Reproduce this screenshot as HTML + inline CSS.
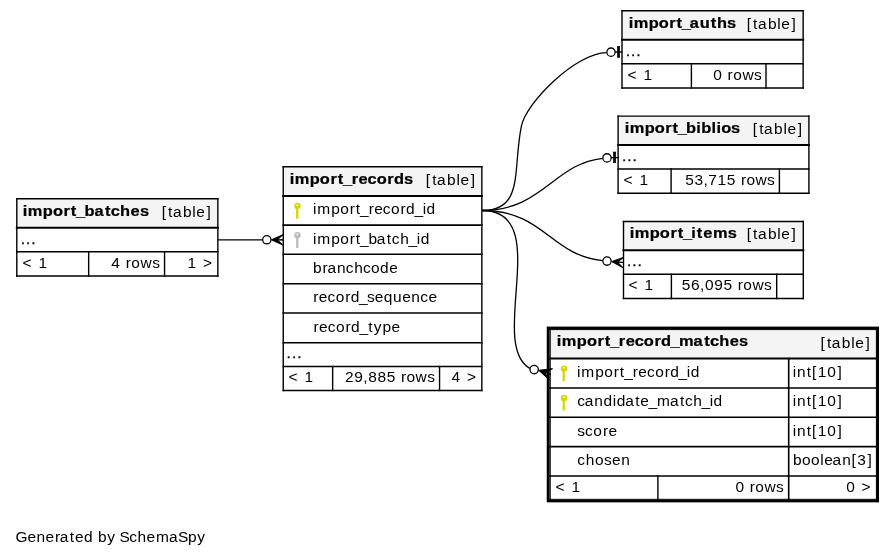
<!DOCTYPE html>
<html><head><meta charset="utf-8"><title>SchemaSpy</title>
<style>
html,body{margin:0;padding:0;background:#fff;width:895px;height:557px;overflow:hidden}
svg{display:block;will-change:transform}
text{font-family:"Liberation Sans",sans-serif;font-size:15.2px;fill:#000}
</style></head><body>
<svg width="895" height="557" viewBox="0 0 895 557">
<rect width="895" height="557" fill="#fff"/>

<rect x="16.8" y="198.7" width="201.05" height="77.30" fill="#fff"/>
<rect x="16.8" y="198.7" width="201.05" height="29.00" fill="#f4f4f4"/>
<line x1="16.80" y1="198.70" x2="217.85" y2="198.70" stroke="#000" stroke-width="1.4" stroke-linecap="square"/>
<line x1="16.80" y1="276.00" x2="217.85" y2="276.00" stroke="#000" stroke-width="1.4" stroke-linecap="square"/>
<line x1="16.80" y1="198.70" x2="16.80" y2="276.00" stroke="#000" stroke-width="1.4" stroke-linecap="square"/>
<line x1="217.85" y1="198.70" x2="217.85" y2="276.00" stroke="#000" stroke-width="1.4" stroke-linecap="square"/>
<line x1="16.80" y1="227.70" x2="217.85" y2="227.70" stroke="#000" stroke-width="2.0" stroke-linecap="square"/>
<line x1="16.80" y1="251.80" x2="217.85" y2="251.80" stroke="#000" stroke-width="1.4" stroke-linecap="square"/>
<line x1="88.65" y1="251.80" x2="88.65" y2="276.00" stroke="#000" stroke-width="1.4" stroke-linecap="square"/>
<line x1="164.55" y1="251.80" x2="164.55" y2="276.00" stroke="#000" stroke-width="1.4" stroke-linecap="square"/>
<text transform="matrix(1.080,0,0,1,22.53,216.10)" x="0.20 4.84 18.83 28.18 37.95 44.67 49.61 57.43 66.60 76.48 81.80 90.36 100.06 108.75" font-weight="bold" stroke="#000" stroke-width="0.24">import_batches</text>
<text transform="matrix(1.020,0,0,1,161.51,217.10)" x="0.19 6.45 11.19 20.99 30.13 34.17 44.19">[table]</text>
<text transform="matrix(1.020,0,0,1,20.33,243.90)" x="0.45 5.60 10.75" stroke="#000" stroke-width="0.3">...</text>
<text transform="matrix(1.020,0,0,1,20.81,268.00)" x="1.72 10.59 17.36">&lt; 1</text>
<text transform="matrix(1.020,0,0,1,110.88,268.00)" x="0.37 8.83 14.53 19.96 29.03 40.51">4 rows</text>
<text transform="matrix(1.020,0,0,1,187.07,268.00)" x="0.32 8.78 15.54">1 &gt;</text>
<rect x="622.0" y="10.7" width="181.15" height="77.30" fill="#fff"/>
<rect x="622.0" y="10.7" width="181.15" height="29.10" fill="#f4f4f4"/>
<line x1="622.00" y1="10.70" x2="803.15" y2="10.70" stroke="#000" stroke-width="1.4" stroke-linecap="square"/>
<line x1="622.00" y1="88.00" x2="803.15" y2="88.00" stroke="#000" stroke-width="1.4" stroke-linecap="square"/>
<line x1="622.00" y1="10.70" x2="622.00" y2="88.00" stroke="#000" stroke-width="1.4" stroke-linecap="square"/>
<line x1="803.15" y1="10.70" x2="803.15" y2="88.00" stroke="#000" stroke-width="1.4" stroke-linecap="square"/>
<line x1="622.00" y1="39.80" x2="803.15" y2="39.80" stroke="#000" stroke-width="2.0" stroke-linecap="square"/>
<line x1="622.00" y1="63.80" x2="803.15" y2="63.80" stroke="#000" stroke-width="1.4" stroke-linecap="square"/>
<line x1="691.40" y1="63.80" x2="691.40" y2="88.00" stroke="#000" stroke-width="1.4" stroke-linecap="square"/>
<line x1="766.00" y1="63.80" x2="766.00" y2="88.00" stroke="#000" stroke-width="1.4" stroke-linecap="square"/>
<text transform="matrix(1.080,0,0,1,628.49,28.10)" x="0.19 4.79 18.73 28.04 37.77 44.46 49.38 56.72 66.07 76.08 81.97 91.22" font-weight="bold" stroke="#000" stroke-width="0.24">import_auths</text>
<text transform="matrix(1.020,0,0,1,746.51,29.10)" x="0.19 6.45 11.19 20.99 30.13 34.17 44.19">[table]</text>
<text transform="matrix(1.020,0,0,1,625.33,55.90)" x="0.45 5.60 10.75" stroke="#000" stroke-width="0.3">...</text>
<text transform="matrix(1.020,0,0,1,625.81,80.00)" x="1.72 10.59 17.36">&lt; 1</text>
<text transform="matrix(1.020,0,0,1,712.83,80.00)" x="0.37 8.82 14.51 19.93 28.99 40.47">0 rows</text>
<rect x="618.1" y="116.1" width="190.80" height="77.20" fill="#fff"/>
<rect x="618.1" y="116.1" width="190.80" height="28.80" fill="#f4f4f4"/>
<line x1="618.10" y1="116.10" x2="808.90" y2="116.10" stroke="#000" stroke-width="1.4" stroke-linecap="square"/>
<line x1="618.10" y1="193.30" x2="808.90" y2="193.30" stroke="#000" stroke-width="1.4" stroke-linecap="square"/>
<line x1="618.10" y1="116.10" x2="618.10" y2="193.30" stroke="#000" stroke-width="1.4" stroke-linecap="square"/>
<line x1="808.90" y1="116.10" x2="808.90" y2="193.30" stroke="#000" stroke-width="1.4" stroke-linecap="square"/>
<line x1="618.10" y1="144.90" x2="808.90" y2="144.90" stroke="#000" stroke-width="2.0" stroke-linecap="square"/>
<line x1="618.10" y1="169.00" x2="808.90" y2="169.00" stroke="#000" stroke-width="1.4" stroke-linecap="square"/>
<line x1="671.10" y1="169.00" x2="671.10" y2="193.30" stroke="#000" stroke-width="1.4" stroke-linecap="square"/>
<line x1="779.40" y1="169.00" x2="779.40" y2="193.30" stroke="#000" stroke-width="1.4" stroke-linecap="square"/>
<text transform="matrix(1.080,0,0,1,624.49,133.10)" x="0.18 4.76 18.68 27.97 37.68 44.37 49.27 57.03 66.56 71.15 80.68 85.25 89.59 98.63" font-weight="bold" stroke="#000" stroke-width="0.24">import_biblios</text>
<text transform="matrix(1.020,0,0,1,752.51,134.10)" x="0.20 6.50 11.29 21.15 30.33 34.41 44.48">[table]</text>
<text transform="matrix(1.020,0,0,1,621.63,161.10)" x="0.45 5.60 10.75" stroke="#000" stroke-width="0.3">...</text>
<text transform="matrix(1.020,0,0,1,621.81,185.00)" x="1.72 10.59 17.36">&lt; 1</text>
<text transform="matrix(1.020,0,0,1,684.98,185.00)" x="0.24 9.36 18.10 22.88 31.88 40.95 49.41 54.94 60.26 69.15 80.47">53,715 rows</text>
<rect x="623.5" y="221.5" width="179.80" height="77.00" fill="#fff"/>
<rect x="623.5" y="221.5" width="179.80" height="28.70" fill="#f4f4f4"/>
<line x1="623.50" y1="221.50" x2="803.30" y2="221.50" stroke="#000" stroke-width="1.4" stroke-linecap="square"/>
<line x1="623.50" y1="298.50" x2="803.30" y2="298.50" stroke="#000" stroke-width="1.4" stroke-linecap="square"/>
<line x1="623.50" y1="221.50" x2="623.50" y2="298.50" stroke="#000" stroke-width="1.4" stroke-linecap="square"/>
<line x1="803.30" y1="221.50" x2="803.30" y2="298.50" stroke="#000" stroke-width="1.4" stroke-linecap="square"/>
<line x1="623.50" y1="250.20" x2="803.30" y2="250.20" stroke="#000" stroke-width="2.0" stroke-linecap="square"/>
<line x1="623.50" y1="274.20" x2="803.30" y2="274.20" stroke="#000" stroke-width="1.4" stroke-linecap="square"/>
<line x1="671.40" y1="274.20" x2="671.40" y2="298.50" stroke="#000" stroke-width="1.4" stroke-linecap="square"/>
<line x1="776.70" y1="274.20" x2="776.70" y2="298.50" stroke="#000" stroke-width="1.4" stroke-linecap="square"/>
<text transform="matrix(1.080,0,0,1,629.48,238.10)" x="0.19 4.82 18.80 28.13 37.89 44.60 49.54 57.31 62.32 68.37 77.44 91.03" font-weight="bold" stroke="#000" stroke-width="0.24">import_items</text>
<text transform="matrix(1.020,0,0,1,746.51,239.10)" x="0.19 6.45 11.19 20.99 30.13 34.17 44.19">[table]</text>
<text transform="matrix(1.020,0,0,1,626.63,266.30)" x="0.45 5.60 10.75" stroke="#000" stroke-width="0.3">...</text>
<text transform="matrix(1.020,0,0,1,626.81,290.00)" x="1.72 10.59 17.36">&lt; 1</text>
<text transform="matrix(1.020,0,0,1,681.47,290.00)" x="0.26 9.42 18.21 23.07 32.12 41.21 49.66 55.27 60.62 69.57 80.95">56,095 rows</text>
<rect x="283.25" y="166.75" width="198.60" height="223.70" fill="#fff"/>
<rect x="283.25" y="166.75" width="198.60" height="29.15" fill="#f4f4f4"/>
<line x1="283.25" y1="166.75" x2="481.85" y2="166.75" stroke="#000" stroke-width="1.4" stroke-linecap="square"/>
<line x1="283.25" y1="390.45" x2="481.85" y2="390.45" stroke="#000" stroke-width="1.4" stroke-linecap="square"/>
<line x1="283.25" y1="166.75" x2="283.25" y2="390.45" stroke="#000" stroke-width="1.4" stroke-linecap="square"/>
<line x1="481.85" y1="166.75" x2="481.85" y2="390.45" stroke="#000" stroke-width="1.4" stroke-linecap="square"/>
<line x1="283.25" y1="195.90" x2="481.85" y2="195.90" stroke="#000" stroke-width="2.0" stroke-linecap="square"/>
<line x1="283.25" y1="225.15" x2="481.85" y2="225.15" stroke="#000" stroke-width="1.6" stroke-linecap="square"/>
<line x1="283.25" y1="254.30" x2="481.85" y2="254.30" stroke="#000" stroke-width="1.6" stroke-linecap="square"/>
<line x1="283.25" y1="283.75" x2="481.85" y2="283.75" stroke="#000" stroke-width="1.6" stroke-linecap="square"/>
<line x1="283.25" y1="312.95" x2="481.85" y2="312.95" stroke="#000" stroke-width="1.6" stroke-linecap="square"/>
<line x1="283.25" y1="342.75" x2="481.85" y2="342.75" stroke="#000" stroke-width="1.6" stroke-linecap="square"/>
<line x1="283.25" y1="366.50" x2="481.85" y2="366.50" stroke="#000" stroke-width="1.4" stroke-linecap="square"/>
<line x1="332.65" y1="366.50" x2="332.65" y2="390.45" stroke="#000" stroke-width="1.4" stroke-linecap="square"/>
<line x1="439.55" y1="366.50" x2="439.55" y2="390.45" stroke="#000" stroke-width="1.4" stroke-linecap="square"/>
<text transform="matrix(1.080,0,0,1,289.48,183.70)" x="0.19 4.82 18.80 28.13 37.89 44.60 49.54 57.61 63.97 72.33 80.73 90.48 96.67 106.03" font-weight="bold" stroke="#000" stroke-width="0.24">import_records</text>
<text transform="matrix(1.020,0,0,1,425.51,184.70)" x="0.20 6.50 11.29 21.15 30.33 34.41 44.48">[table]</text>
<text transform="matrix(1.020,0,0,1,312.63,213.80)" x="0.30 4.62 18.26 27.07 36.33 42.18 46.50 54.94 60.32 68.86 76.90 86.17 91.58 99.79 107.86 111.74">import_record_id</text>
<text transform="matrix(1.020,0,0,1,312.63,243.90)" x="0.30 4.63 18.28 27.09 36.36 42.21 46.53 54.69 62.97 72.77 77.67 85.88 94.00 102.07 105.96">import_batch_id</text>
<text transform="matrix(1.020,0,0,1,312.68,272.90)" x="0.37 9.67 14.44 23.86 32.49 40.65 49.30 57.29 66.06 75.05">branchcode</text>
<text transform="matrix(1.020,0,0,1,312.68,301.80)" x="0.67 6.06 14.60 22.64 31.90 37.31 45.52 53.31 60.91 69.72 78.82 87.80 96.71 105.38 113.47">record_sequence</text>
<text transform="matrix(1.020,0,0,1,312.67,331.90)" x="0.71 6.16 14.78 22.90 32.24 37.71 46.01 54.48 59.92 68.42 77.37">record_type</text>
<g fill="#d2d800"><circle cx="297.50" cy="206.00" r="3.2"/><rect x="296.10" y="208.00" width="2.2" height="10.7"/><g opacity="0.45"><rect x="298.30" y="211.20" width="0.9" height="1.3"/><rect x="298.30" y="213.40" width="0.9" height="1.3"/><rect x="298.30" y="215.60" width="0.9" height="1.3"/></g></g><circle cx="297.40" cy="205.10" r="0.9" fill="#fff"/>
<g fill="#bcbcbc"><circle cx="297.50" cy="235.30" r="3.2"/><rect x="296.10" y="237.30" width="2.2" height="10.7"/><g opacity="0.45"><rect x="298.30" y="240.50" width="0.9" height="1.3"/><rect x="298.30" y="242.70" width="0.9" height="1.3"/><rect x="298.30" y="244.90" width="0.9" height="1.3"/></g></g><circle cx="297.40" cy="234.40" r="0.9" fill="#fff"/>
<text transform="matrix(1.020,0,0,1,286.11,358.10)" x="0.50 5.73 10.96" stroke="#000" stroke-width="0.3">...</text>
<text transform="matrix(1.020,0,0,1,286.60,382.00)" x="1.77 10.65 17.55">&lt; 1</text>
<text transform="matrix(1.020,0,0,1,344.83,381.80)" x="0.12 9.33 18.16 22.99 32.06 41.08 49.53 55.10 60.43 69.36 80.70">29,885 rows</text>
<text transform="matrix(1.020,0,0,1,450.97,381.80)" x="0.42 8.87 15.62">4 &gt;</text>
<rect x="548.1" y="327.95" width="329.55" height="173.05" fill="#fff"/>
<rect x="548.1" y="327.95" width="329.55" height="30.65" fill="#f4f4f4"/>
<line x1="548.10" y1="358.60" x2="877.65" y2="358.60" stroke="#000" stroke-width="2.0" stroke-linecap="square"/>
<line x1="548.10" y1="388.00" x2="877.65" y2="388.00" stroke="#000" stroke-width="1.6" stroke-linecap="square"/>
<line x1="548.10" y1="417.30" x2="877.65" y2="417.30" stroke="#000" stroke-width="1.6" stroke-linecap="square"/>
<line x1="548.10" y1="446.60" x2="877.65" y2="446.60" stroke="#000" stroke-width="1.6" stroke-linecap="square"/>
<line x1="548.10" y1="476.00" x2="877.65" y2="476.00" stroke="#000" stroke-width="1.6" stroke-linecap="square"/>
<line x1="788.70" y1="358.60" x2="788.70" y2="501.00" stroke="#000" stroke-width="1.6" stroke-linecap="square"/>
<line x1="657.90" y1="476.00" x2="657.90" y2="501.00" stroke="#000" stroke-width="1.4" stroke-linecap="square"/>
<line x1="550.10" y1="327.95" x2="550.10" y2="501.00" stroke="#000" stroke-width="1.33" stroke-linecap="square"/>
<line x1="548.10" y1="499.30" x2="877.65" y2="499.30" stroke="#000" stroke-width="1.0" stroke-linecap="square"/>
<line x1="548.10" y1="329.60" x2="877.65" y2="329.60" stroke="#000" stroke-width="1.0" stroke-linecap="square"/>
<line x1="876.40" y1="327.95" x2="876.40" y2="501.00" stroke="#000" stroke-width="1.0" stroke-linecap="square"/>
<rect x="548.1" y="327.95" width="329.55" height="173.05" fill="none" stroke="#000" stroke-width="2.7"/>
<text transform="matrix(1.080,0,0,1,556.48,345.90)" x="0.20 4.84 18.84 28.19 37.96 44.69 49.64 57.73 64.10 72.47 80.89 90.66 96.86 105.53 113.34 126.90 136.78 142.11 150.67 160.38 169.08" font-weight="bold" stroke="#000" stroke-width="0.24">import_record_matches</text>
<text transform="matrix(1.020,0,0,1,820.41,348.00)" x="0.19 6.47 11.23 21.04 30.19 34.25 44.29">[table]</text>
<text transform="matrix(1.020,0,0,1,576.63,376.50)" x="0.30 4.64 18.30 27.12 36.40 42.25 46.58 55.03 60.43 68.99 77.04 86.31 91.74 99.96 108.04 111.93">import_record_id</text>
<text transform="matrix(1.020,0,0,1,792.51,376.50)" x="0.33 4.41 13.89 19.02 24.82 34.11 44.22">int[10]</text>
<g fill="#d2d800"><circle cx="564.00" cy="368.60" r="3.2"/><rect x="562.60" y="370.60" width="2.2" height="10.7"/><g opacity="0.45"><rect x="564.80" y="373.80" width="0.9" height="1.3"/><rect x="564.80" y="376.00" width="0.9" height="1.3"/><rect x="564.80" y="378.20" width="0.9" height="1.3"/></g></g><circle cx="563.90" cy="367.70" r="0.9" fill="#fff"/>
<text transform="matrix(1.020,0,0,1,577.20,405.60)" x="-0.07 7.39 16.81 25.71 34.82 38.67 47.07 56.82 61.92 69.84 78.22 91.01 100.76 105.63 113.78 121.86 129.90 133.75">candidate_match_id</text>
<text transform="matrix(1.020,0,0,1,792.51,405.60)" x="0.33 4.41 13.89 19.02 24.82 34.11 44.22">int[10]</text>
<g fill="#d2d800"><circle cx="564.00" cy="397.95" r="3.2"/><rect x="562.60" y="399.95" width="2.2" height="10.7"/><g opacity="0.45"><rect x="564.80" y="403.15" width="0.9" height="1.3"/><rect x="564.80" y="405.35" width="0.9" height="1.3"/><rect x="564.80" y="407.55" width="0.9" height="1.3"/></g></g><circle cx="563.90" cy="397.05" r="0.9" fill="#fff"/>
<text transform="matrix(1.020,0,0,1,577.20,435.50)" x="0.09 7.61 15.80 25.22 30.73">score</text>
<text transform="matrix(1.020,0,0,1,792.51,435.50)" x="0.33 4.41 13.89 19.02 24.82 34.11 44.22">int[10]</text>
<text transform="matrix(1.020,0,0,1,577.18,464.90)" x="0.04 8.43 17.52 26.31 34.11 43.22">chosen</text>
<text transform="matrix(1.020,0,0,1,792.57,464.90)" x="0.43 9.32 18.12 27.06 30.98 39.24 48.79 57.68 63.53 73.58">boolean[3]</text>
<text transform="matrix(1.020,0,0,1,553.81,492.00)" x="1.72 10.59 17.36">&lt; 1</text>
<text transform="matrix(1.020,0,0,1,735.03,491.60)" x="0.35 8.80 14.44 19.83 28.85 40.28">0 rows</text>
<text transform="matrix(1.020,0,0,1,845.72,491.60)" x="0.41 8.86 15.58">0 &gt;</text>
<path d="M217.85,239.9 L262.6,239.9" fill="none" stroke="#000" stroke-width="1.3"/>
<circle cx="266.8" cy="239.8" r="4.15" fill="#fff" stroke="#000" stroke-width="1.3"/>
<path d="M271.40,239.80 L283.25,245.26 L277.35,239.85 L283.30,239.90 L277.35,239.85 L283.35,234.54Z" fill="#000" stroke="#000" stroke-width="1.0" stroke-linejoin="miter"/>
<path d="M482.30,210.50 C524.34,210.50 512.45,169.72 521.39,126.15 C526.26,102.37 575.57,53.18 606.50,52.60" fill="none" stroke="#000" stroke-width="1.3"/>
<path d="M482.30,210.50 C542.42,210.50 553.98,163.56 602.60,158.30" fill="none" stroke="#000" stroke-width="1.3"/>
<path d="M482.30,210.50 C544.50,210.50 549.75,255.08 602.60,260.60" fill="none" stroke="#000" stroke-width="1.3"/>
<path d="M482.30,210.50 C554.03,210.50 487.13,343.77 529.80,368.40" fill="none" stroke="#000" stroke-width="1.3"/>
<line x1="615.10" y1="52.00" x2="622.00" y2="52.00" stroke="#000" stroke-width="1.3" stroke-linecap="square"/>
<circle cx="611.0" cy="52.15" r="4.15" fill="#fff" stroke="#000" stroke-width="1.3"/>
<rect x="617.4" y="46.4" width="2.30" height="11.00" fill="#000" stroke="#000" stroke-width="0.6"/>
<line x1="611.10" y1="157.70" x2="618.00" y2="157.60" stroke="#000" stroke-width="1.3" stroke-linecap="square"/>
<circle cx="607.0" cy="157.9" r="4.15" fill="#fff" stroke="#000" stroke-width="1.3"/>
<rect x="613.4" y="152.0" width="2.30" height="10.70" fill="#000" stroke="#000" stroke-width="0.6"/>
<circle cx="607.0" cy="261.1" r="4.15" fill="#fff" stroke="#000" stroke-width="1.3"/>
<path d="M611.70,261.60 L623.00,267.76 L617.55,262.05 L623.40,262.50 L617.55,262.05 L623.80,257.24Z" fill="#000" stroke="#000" stroke-width="1.0" stroke-linejoin="miter"/>
<circle cx="534.15" cy="369.6" r="4.2" fill="#fff" stroke="#000" stroke-width="1.3"/>
<path d="M538.70,370.30 L549.04,379.64 L544.75,372.25 L550.80,374.20 L544.75,372.25 L552.55,368.76Z" fill="#000" stroke="#000" stroke-width="1.0" stroke-linejoin="miter"/>
<text transform="matrix(1.020,0,0,1,15.98,541.80)" x="-0.40 11.21 20.10 28.99 38.23 43.01 52.78 57.90 66.68 75.14 80.41 89.48 97.08 101.54 110.99 119.17 128.08 137.29 150.11 158.77 168.65 177.72">Generated by SchemaSpy</text>
</svg>
</body></html>
